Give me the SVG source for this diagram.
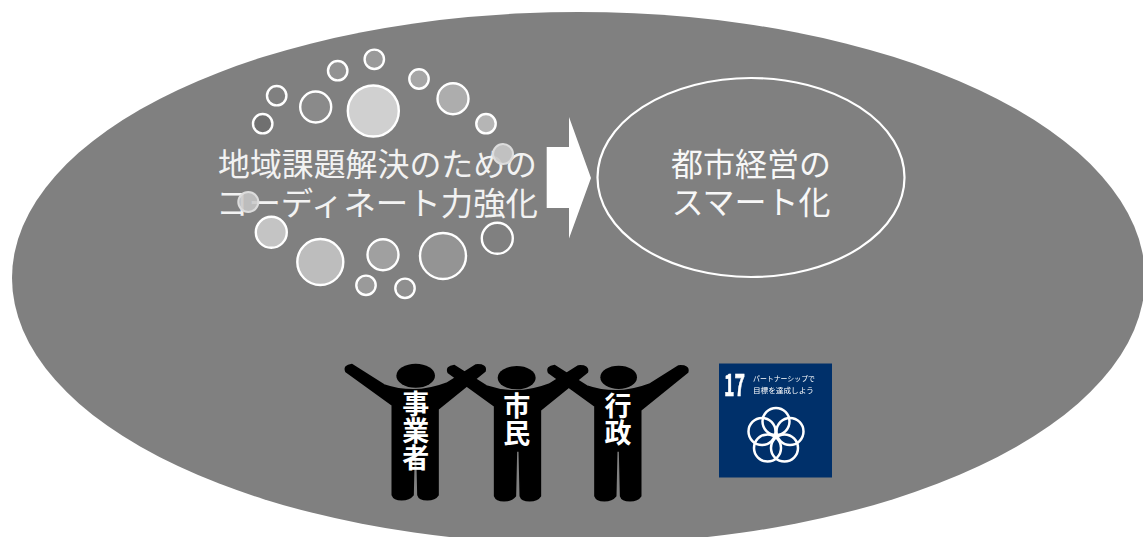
<svg xmlns="http://www.w3.org/2000/svg" width="1143" height="537" viewBox="0 0 1143 537">
<style>
text{font-family:"Noto Sans CJK JP","Noto Sans CJK SC",sans-serif}
.c{stroke:#fff;stroke-width:2.400}
.t{fill:#f2f2f2;font-size:32px}
.s{fill:#f7f7f7;font-size:32px;text-anchor:middle}
.v{fill:#fff;font-size:27px;font-weight:700;writing-mode:vertical-rl;text-anchor:start}
.m{fill:#fff;font-size:7px}
.r{fill:none;stroke:#fff;stroke-width:2.500}
</style>
<defs>
<filter id="soft" x="-5%" y="-5%" width="110%" height="110%"><feGaussianBlur stdDeviation=".6"/></filter>
<filter id="softer" x="-5%" y="-5%" width="110%" height="110%"><feGaussianBlur stdDeviation=".35"/></filter>
<path id="fig" stroke="#000" stroke-width="5" stroke-linejoin="round" d="M18,50Q10,32 36,29L132,90Q225,122 320,85L408,30Q440,28 435,48L294,162L294,420Q285,434 262,434Q238,434 234,420L231,285L222,285L219,420Q208,434 185,434Q162,434 157,420L157,150Z"/>
</defs>
<rect width="1143" height="537" fill="#fff"/>
<ellipse id="ground" cx="578.500" cy="278" rx="566.500" ry="266" fill="#808080"/>
<g id="bubbles">
<circle class="c" cx="373.300" cy="111" r="25.500" fill="#d0d0d0"/>
<circle class="c" cx="315.700" cy="107" r="15.500" fill="#8a8a8a"/>
<circle class="c" cx="276.700" cy="95.700" r="9.700" fill="#808080"/>
<circle class="c" cx="262.700" cy="123.700" r="9.700" fill="#707070"/>
<circle class="c" cx="337.700" cy="70.700" r="9.700" fill="#929292"/>
<circle class="c" cx="374.300" cy="59.300" r="9.700" fill="#9a9a9a"/>
<circle class="c" cx="419" cy="79" r="9.700" fill="#a6a6a6"/>
<circle class="c" cx="453" cy="98.700" r="15.500" fill="#adadad"/>
<circle class="c" cx="486" cy="123.700" r="9.700" fill="#b5b5b5"/>
<circle class="c" cx="271.300" cy="232.300" r="15.500" fill="#c4c4c4"/>
<circle class="c" cx="320.300" cy="262" r="23" fill="#bdbdbd"/>
<circle class="c" cx="383" cy="254.700" r="15.500" fill="#a0a0a0"/>
<circle class="c" cx="443" cy="256" r="23" fill="#949494"/>
<circle class="c" cx="497.300" cy="238.300" r="15.500" fill="#808080"/>
<circle class="c" cx="366" cy="285.300" r="9.700" fill="#9a9a9a"/>
<circle class="c" cx="405" cy="288.300" r="9.700" fill="#8f8f8f"/>
</g>
<g id="source-label">
<text class="t" x="218" y="176" textLength="319" lengthAdjust="spacingAndGlyphs">地域課題解決のための</text>
<text class="t" x="216" y="215" textLength="322" lengthAdjust="spacingAndGlyphs">コーディネート力強化</text>
</g>
<g id="bubbles-over">
<circle cx="503" cy="154" r="10" fill="#c8c8c8" fill-opacity=".9" stroke="#dcdcdc" stroke-width="2"/>
<circle cx="248.300" cy="202" r="10" fill="#c8c8c8" fill-opacity=".85" stroke="#dcdcdc" stroke-width="2"/>
</g>
<g id="connectors">
<path d="M546.700,147H569V117L591,178L569,238.500V208H546.700Z" fill="#fff"/>
</g>
<g id="target">
<ellipse cx="751" cy="177.500" rx="153.500" ry="99.500" fill="#808080" stroke="#fff" stroke-width="2.200"/>
<text class="s" x="751" y="176">都市経営の</text>
<text class="s" x="751" y="214">スマート化</text>
</g>
<g id="people">
<g filter="url(#soft)" transform="translate(340 355) scale(.33333)">
<use href="#fig"/>
<use href="#fig" x="307" y="3"/>
<use href="#fig" x="608" y="3"/>
<ellipse cx="227" cy="62" rx="58" ry="36"/>
<ellipse cx="530" cy="68" rx="57" ry="35"/>
<ellipse cx="836" cy="67" rx="55" ry="35"/>
</g>
<text class="v" x="415.700" y="390">事業者</text>
<text class="v" x="516.700" y="392">市民</text>
<text class="v" x="618" y="392">行政</text>
</g>
<g id="sdg17">
<rect x="719" y="363.500" width="113" height="114" fill="#00306a"/>
<g filter="url(#softer)">
<text x="724" y="396" fill="#fff" stroke="#fff" stroke-width=".6" font-size="31" font-weight="700" textLength="21" lengthAdjust="spacingAndGlyphs">17</text>
<text class="m" x="753" y="381" textLength="62" lengthAdjust="spacingAndGlyphs">パートナーシップで</text>
<text class="m" x="753" y="393" textLength="61" lengthAdjust="spacingAndGlyphs">目標を達成しよう</text>
<circle class="r" cx="776" cy="421.500" r="13.500"/>
<circle class="r" cx="762" cy="431.500" r="13.500"/>
<circle class="r" cx="790" cy="431.500" r="13.500"/>
<circle class="r" cx="767.500" cy="448" r="13.500"/>
<circle class="r" cx="784.500" cy="448" r="13.500"/>
</g>
</g>
</svg>
